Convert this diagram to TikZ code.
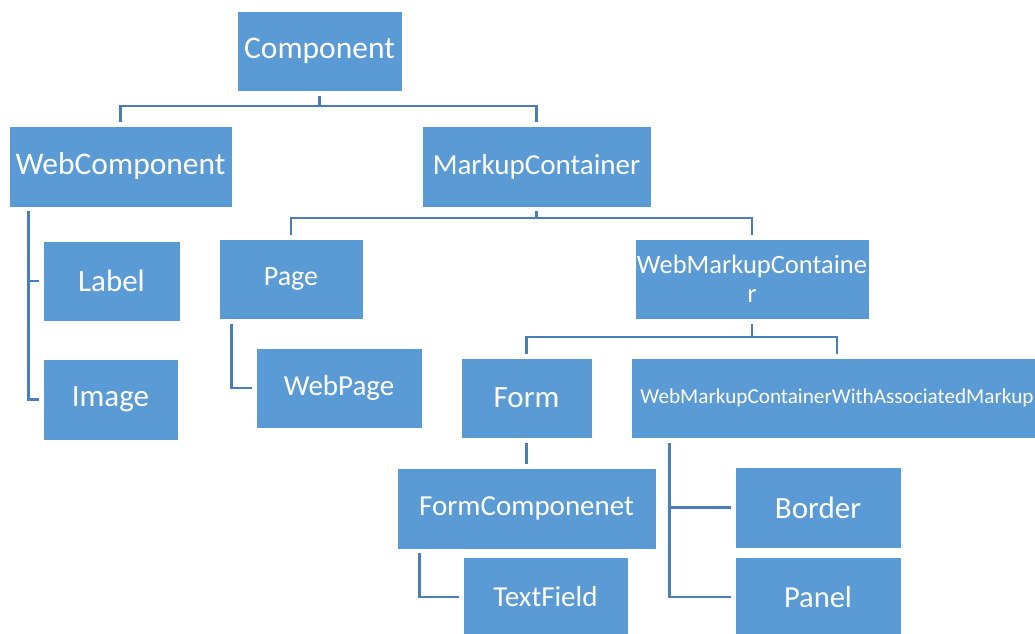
\documentclass[tikz,border=0pt]{standalone}
\usepackage{fontspec}
\setmainfont{Carlito}
\definecolor{boxblue}{HTML}{5B9BD5}
\definecolor{linkblue}{HTML}{4A7EBB}
\tikzset{
  x=1pt, y=-1pt,
  box/.style={rectangle, fill=boxblue, draw=white, line width=0.8pt,
    text=white, inner sep=0pt, align=center},
  conn/.style={draw=linkblue, line width=2.6pt, line cap=butt}
}
\newcommand{\fs}[1]{\fontsize{#1}{36}\selectfont}
\begin{document}
\begin{tikzpicture}
\useasboundingbox (0,0) rectangle (1035,633);

% class boxes
\node[box, minimum width=165pt, minimum height=80pt, font=\fs{31.5}] (comp) at (319.5,51) {Component};
\node[box, minimum width=223pt, minimum height=81pt, font=\fs{31.5}] (webcomp) at (120.5,166.5) {WebComponent};
\node[box, minimum width=229pt, minimum height=81pt, font=\fs{29}] (markup) at (536.5,166.5) {MarkupContainer};
\node[box, minimum width=137pt, minimum height=80pt, font=\fs{31}] (label) at (111.5,281) {Label};
\node[box, minimum width=135pt, minimum height=81pt, font=\fs{31}] (image) at (110.5,399.5) {Image};
\node[box, minimum width=144pt, minimum height=80pt, font=\fs{28}] (page) at (291,279) {Page};
\node[box, minimum width=234pt, minimum height=80pt, font=\fontsize{26.5}{29.5}\selectfont] (webmc) at (752,279) {WebMarkupContaine\\r};
\node[box, minimum width=166pt, minimum height=80pt, font=\fs{29}] (webpage) at (339,388) {WebPage};
\node[box, minimum width=131pt, minimum height=80pt, font=\fs{31}] (form) at (526.5,398) {Form};
\node[box, minimum width=412pt, minimum height=80pt, font=\fs{21.2}] (wmcwam) at (837,398) {WebMarkupContainerWithAssociatedMarkup};
\node[box, minimum width=259pt, minimum height=81pt, font=\fs{29}] (formcomp) at (526.5,508.5) {FormComponenet};
\node[box, minimum width=166pt, minimum height=81pt, font=\fs{31}] (border) at (818,507.5) {Border};
\node[box, minimum width=165pt, minimum height=80pt, font=\fs{29}] (textfield) at (545.5,597) {TextField};
\node[box, minimum width=166pt, minimum height=80pt, font=\fs{30.5}] (panel) at (818,597) {Panel};

% bus levels
\coordinate (busA) at (0,106);
\coordinate (busB) at (0,218);
\coordinate (busC) at (0,337);

% Component -> WebComponent, MarkupContainer
\draw[conn] ([yshift=-5pt]comp.south) -- (comp.south|-busA) -| ([yshift=4pt]webcomp.north);
\draw[conn] (comp.south|-busA) -| ([yshift=4pt]markup.north);

% MarkupContainer -> Page, WebMarkupContainer
\draw[conn] ([yshift=-4pt]markup.south) -- (markup.south|-busB) -| ([yshift=4pt]page.north);
\draw[conn] (markup.south|-busB) -| ([yshift=4pt]webmc.north);

% WebMarkupContainer -> Form, WebMarkupContainerWithAssociatedMarkup
\draw[conn] ([yshift=-5pt]webmc.south) -- (webmc.south|-busC) -| ([yshift=4pt]form.north);
\draw[conn] (webmc.south|-busC) -| ([yshift=4pt]wmcwam.north);

% Form -> FormComponenet
\draw[conn] ([yshift=-5pt]form.south) -- ([yshift=4pt]formcomp.north);

% WebComponent -> Label, Image
\draw[conn] ([xshift=20pt,yshift=-4pt]webcomp.south west) |- ([xshift=-4pt]image.west);
\draw[conn] ([xshift=20pt]webcomp.south west|-label.west) -- ([xshift=-4pt]label.west);

% Page -> WebPage
\draw[conn] ([xshift=13pt,yshift=-5pt]page.south west) |- ([xshift=-4pt]webpage.west);

% FormComponenet -> TextField
\draw[conn] ([xshift=23pt,yshift=-4pt]formcomp.south west) |- ([xshift=-4pt]textfield.west);

% WebMarkupContainerWithAssociatedMarkup -> Border, Panel
\draw[conn] ([xshift=39pt,yshift=-5pt]wmcwam.south west) |- ([xshift=-4pt]panel.west);
\draw[conn] ([xshift=39pt]wmcwam.south west|-border.west) -- ([xshift=-4pt]border.west);
\end{tikzpicture}
\end{document}
